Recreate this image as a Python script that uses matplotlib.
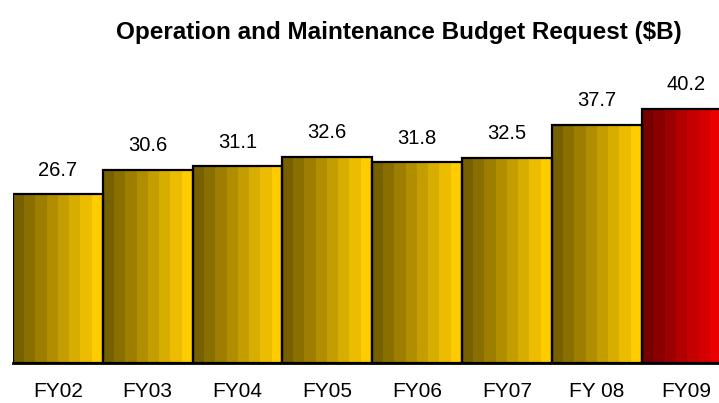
import numpy as np
import matplotlib
matplotlib.use("Agg")
import matplotlib.pyplot as plt
from matplotlib.colors import LinearSegmentedColormap

# data
years = ["FY02", "FY03", "FY04", "FY05", "FY06", "FY07", "FY 08", "FY09"]
values = [26.7, 30.6, 31.1, 32.6, 31.8, 32.5, 37.7, 40.2]
labels = ["26.7", "30.6", "31.1", "32.6", "31.8", "32.5", "37.7", "40.2"]
highlight = [False, False, False, False, False, False, False, True]

plt.rcParams["font.family"] = ["Liberation Sans", "DejaVu Sans"]

gold = LinearSegmentedColormap.from_list("gold", ["#766000", "#ffcc00"])
red = LinearSegmentedColormap.from_list("red", ["#760000", "#ff0000"])
steps = np.linspace(0, 1, 8).reshape(1, -1)

fig = plt.figure(figsize=(7.19, 4.03), dpi=100)
# axes in pixels: left 13, right 719, bottom 363, top 60
W, H = 719, 403
ax = fig.add_axes([13 / W, (H - 363) / H, (719 - 13) / W, (363 - 60) / H])

x = np.arange(len(values))
bars = ax.bar(x, values, width=1.0, facecolor="none", edgecolor="black",
              linewidth=1.6, zorder=3)
for b, hl in zip(bars, highlight):
    x0 = b.get_x()
    ax.imshow(steps, cmap=red if hl else gold, interpolation="nearest",
              aspect="auto", extent=[x0, x0 + b.get_width(), 0, b.get_height()],
              zorder=2)

for xi, v, lab in zip(x, values, labels):
    ax.text(xi, v + 3.8, lab, ha="center", va="center", fontsize=14.5)

ax.set_xlim(-0.5, -0.5 + 706 / 89.8)
ax.set_ylim(0, 303 / 6.32)
ax.set_xticks(x)
ax.set_xticklabels(years, fontsize=15)
ax.tick_params(axis="x", length=0, pad=14)
ax.set_yticks([])
for s in ["top", "right", "left"]:
    ax.spines[s].set_visible(False)
ax.spines["bottom"].set_linewidth(2)
ax.spines["bottom"].set_zorder(4)

fig.text(399 / W, 1 - 33 / H, "Operation and Maintenance Budget Request ($B)",
         ha="center", va="center", fontsize=17.5, fontweight="bold")

fig.savefig("out.png", dpi=100)
